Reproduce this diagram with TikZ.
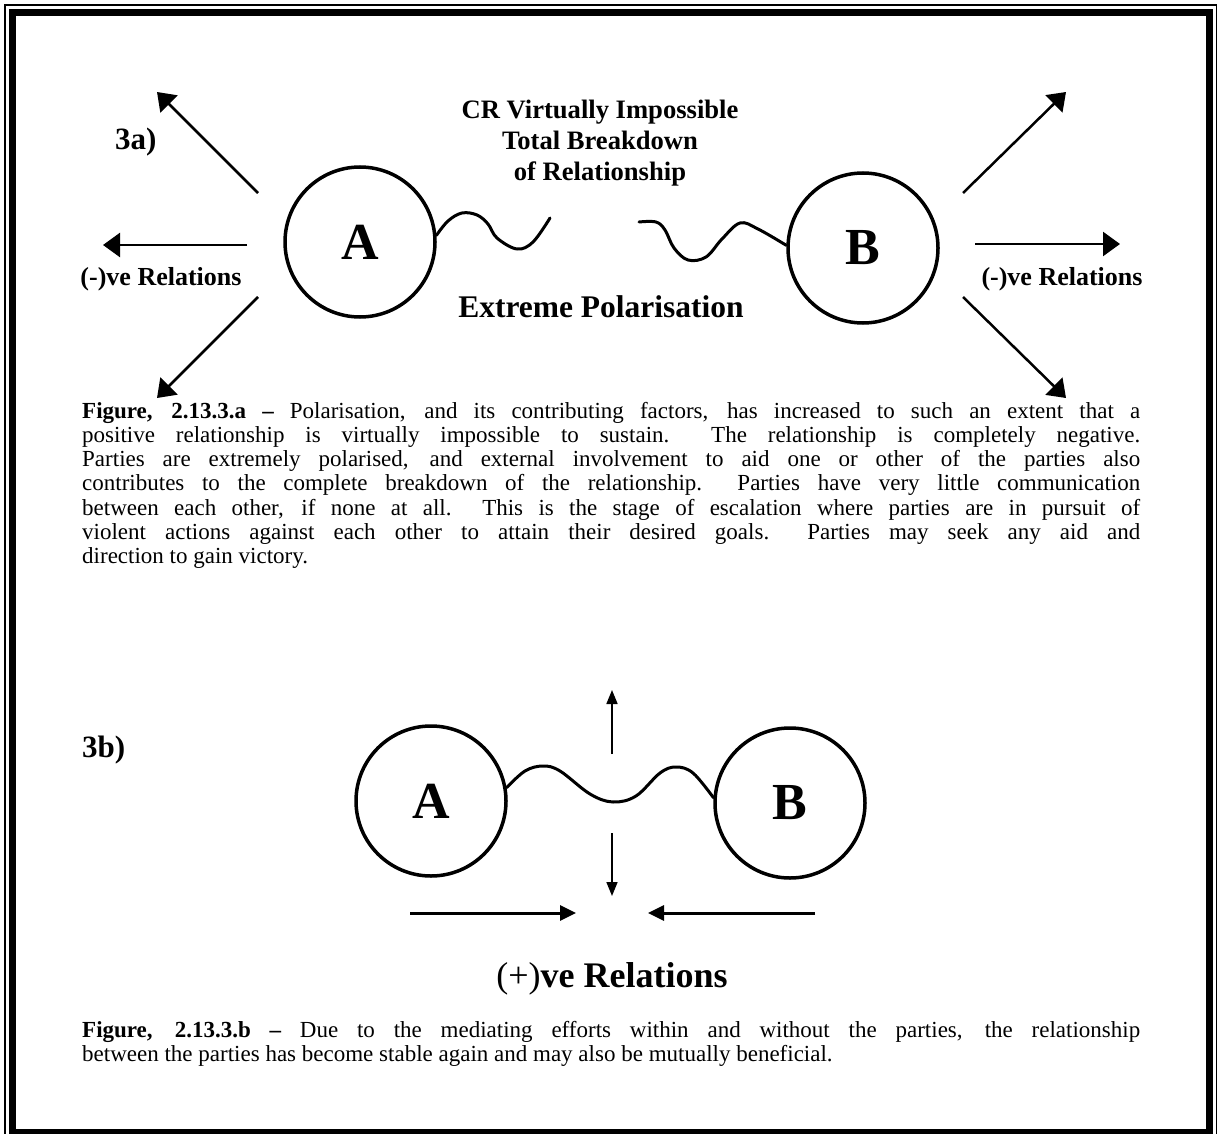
\documentclass[tikz,border=0pt]{standalone}
\usepackage{fontspec}
\setmainfont{Liberation Serif}
\usetikzlibrary{arrows.meta}
\tikzset{
  party/.style={circle, draw, line width=3.5pt, minimum size=150pt, inner sep=0pt,
    font=\fontsize{52}{56}\selectfont\bfseries},
  bigarrow/.style={line width=2.5pt, -{Triangle[length=17pt,width=24pt]}},
  thinarrow/.style={line width=1.7pt, -{Triangle[length=14pt,width=11pt]}},
  midarrow/.style={line width=3pt, -{Triangle[length=16pt,width=15pt]}},
  wave/.style={line width=3pt, line cap=round, line join=round},
  bodytext/.style={anchor=north west, inner sep=0pt, text width=1058pt, align=justify,
    font=\fontsize{23}{24.2}\selectfont},
  lbl/.style={anchor=base, inner sep=0pt, font=\fontsize{26}{28}\selectfont\bfseries}
}
\begin{document}
\begin{tikzpicture}[x=1pt,y=-1pt]
\useasboundingbox (0,0) rectangle (1223,1134);
% frame
\draw[line width=1.3pt] (5,5) rectangle (1216.5,1145);
\draw[line width=7pt] (12.5,12.5) rectangle (1209.5,1132.5);

% ---------- 3a ----------
\node[anchor=base west, inner sep=0pt, font=\fontsize{31}{32}\selectfont\bfseries] (l3a) at (115,150) {3a)};
\node[anchor=north, inner sep=0pt, align=center, font=\fontsize{26.6}{31}\selectfont\bfseries] (title) at (600,100)
  {CR Virtually Impossible\\Total Breakdown\\of Relationship};
\node[party] (A1) at (360,242) {A};
\node[party] (B1) at (863,248) {B};
\node[anchor=base, inner sep=0pt, font=\fontsize{31.5}{33}\selectfont\bfseries] (ext) at (601,317) {Extreme Polarisation};
\node[lbl] (negL) at (161,285) {(-)ve Relations};
\node[lbl] (negR) at (1062,285) {(-)ve Relations};

\draw[wave] plot[smooth, tension=0.6] coordinates {(A1.5) (448,221) (462,213) (477,215) (488,224) (497,238) (517,249) (533,242) (550,218)};
\draw[wave] plot[smooth, tension=0.6] coordinates {(639,222) (656,222) (665,230) (674,248) (688,260) (706,257) (722,239) (740,223) (758,229) (B1.178)};

\coordinate (ulS) at (258,193); \coordinate (ulE) at (157,92);
\coordinate (lS) at (247,245);  \coordinate (lE) at (103,245);
\coordinate (dlS) at (258,297); \coordinate (dlE) at (157,398);
\coordinate (urS) at (963,193); \coordinate (urE) at (1066,92);
\coordinate (rS) at (975,244);  \coordinate (rE) at (1120,244);
\coordinate (drS) at (963,297); \coordinate (drE) at (1066,398);
\draw[bigarrow] (ulS) -- (ulE);
\draw[bigarrow] (lS) -- (lE);
\draw[bigarrow] (dlS) -- (dlE);
\draw[bigarrow] (urS) -- (urE);
\draw[bigarrow] (rS) -- (rE);
\draw[bigarrow] (drS) -- (drE);

\node[bodytext] (capA) at (82,402) {\textbf{Figure, 2.13.3.a –} Polarisation, and its contributing factors, has increased to such an extent that a\linebreak
positive relationship is virtually impossible to sustain.\ \ The relationship is completely negative.\linebreak
Parties are extremely polarised, and external involvement to aid one or other of the parties also\linebreak
contributes to the complete breakdown of the relationship.\ \ Parties have very little communication\linebreak
between each other, if none at all.\ \ This is the stage of escalation where parties are in pursuit of\linebreak
violent actions against each other to attain their desired goals.\ \ Parties may seek any aid and\linebreak
direction to gain victory.};

% ---------- 3b ----------
\node[anchor=base west, inner sep=0pt, font=\fontsize{31}{32}\selectfont\bfseries] (l3b) at (82,757) {3b)};
\node[party] (A2) at (431,801) {A};
\node[party] (B2) at (790,803) {B};
\draw[wave] plot[smooth, tension=0.6] coordinates {(A2.10) (525,771) (543,766) (560,771) (590,794) (613,802) (636,796) (660,773) (676,767) (693,773) (B2.176)};

\coordinate (vuS) at (612,754); \coordinate (vuE) at (612,690);
\coordinate (vdS) at (612,833); \coordinate (vdE) at (612,896);
\coordinate (hrS) at (410,913); \coordinate (hrE) at (576,913);
\coordinate (hlS) at (815,913); \coordinate (hlE) at (648,913);
\draw[thinarrow] (vuS) -- (vuE);
\draw[thinarrow] (vdS) -- (vdE);
\draw[midarrow] (hrS) -- (hrE);
\draw[midarrow] (hlS) -- (hlE);

\node[anchor=base, inner sep=0pt, font=\fontsize{36}{38}\selectfont] (pos) at (612,987) {(+)\textbf{ve Relations}};

\node[bodytext] (capB) at (82,1021) {\textbf{Figure, 2.13.3.b –} Due to the mediating efforts within and without the parties, the relationship\linebreak
between the parties has become stable again and may also be mutually beneficial.};
\end{tikzpicture}
\end{document}
